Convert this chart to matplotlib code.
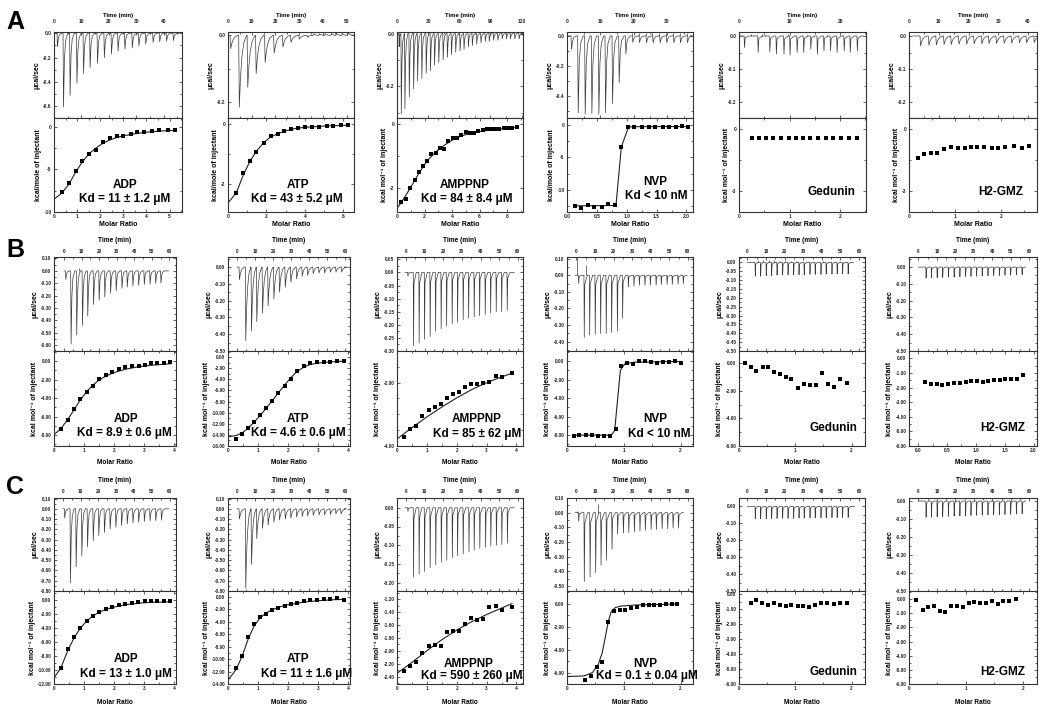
import matplotlib
matplotlib.use("Agg")
import matplotlib.pyplot as plt
from matplotlib.ticker import MultipleLocator, FuncFormatter

plt.rcParams["font.family"] = ["Liberation Sans", "DejaVu Sans"]
plt.rcParams["font.weight"] = "bold"

# ---------------- data ----------------
COMPOUNDS = ["ADP", "ATP", "AMPPNP", "NVP", "Gedunin", "H2-GMZ"]
KD_A = ["Kd = 11 ± 1.2 μM", "Kd = 43 ± 5.2 μM", "Kd = 84 ± 8.4 μM", "Kd < 10 nM", "", ""]
KD_B = ["Kd = 8.9 ± 0.6 μM", "Kd = 4.6 ± 0.6 μM", "Kd = 85 ± 62 μM", "Kd < 10 nM", "", ""]
KD_C = ["Kd = 13 ± 1.0 μM", "Kd = 11 ± 1.6 μM", "Kd = 590 ± 260 μM", "Kd = 0.1 ± 0.04 μM", "", ""]
YLAB_A = ["kcal/mole of injectant", "kcal/mole of injectant", "kcal mol⁻¹ of injectant",
          "kcal/mole of injectant", "kcal mol⁻¹ of injectant", "kcal mol⁻¹ of injectant"]
YLAB_BC = "kcal mol⁻¹ of injectant"

# --- row A ---
A_ADP_T = [1.1, 3.3, 5.7, 8.2, 10.6, 13.0, 15.7, 18.2, 20.8, 23.2, 25.7, 28.4, 30.8, 33.3, 36.0, 38.4, 40.9, 43.4]
A_ADP_P = [-0.11, -0.605, -0.51, -0.41, -0.33, -0.28, -0.245, -0.20, -0.17, -0.145, -0.13, -0.12, -0.105, -0.09, -0.076, -0.07, -0.065, -0.06]
A_ADP_ST = [31.8, 44.8]
A_ADP_SH = [0.03, 0.02]
A_ADP_X = [0.35, 0.65, 0.94, 1.23, 1.52, 1.83, 2.10, 2.41, 2.71, 3.00, 3.32, 3.61, 3.91, 4.25, 4.55, 4.93, 5.25]
A_ADP_Y = [-7.66, -6.64, -5.20, -3.98, -3.16, -2.70, -1.76, -1.33, -1.09, -1.02, -0.82, -0.63, -0.59, -0.47, -0.39, -0.31, -0.35]
A_ADP_FX = [0, 0.35, 0.65, 0.94, 1.23, 1.52, 1.83, 2.1, 2.4, 2.7, 3.0, 3.5, 4.0, 4.5, 5.25]
A_ADP_FY = [-8.5, -7.75, -6.7, -5.3, -4.1, -3.15, -2.45, -1.95, -1.55, -1.25, -1.05, -0.8, -0.62, -0.5, -0.38]

A_ATP_T = [0.85, 4.5, 8.05, 11.6, 15.4, 19.2, 22.9, 26.3, 29.8, 33.3, 35.9, 38.3, 40.8, 43.4, 45.5, 47.9, 50.4]
A_ATP_P = [-0.04, -0.215, -0.155, -0.114, -0.081, -0.053, -0.035, -0.021, -0.011, -0.006, 0.005, 0.005, 0.005, 0.006, 0.006, 0.006, 0.006]
A_ATP_X = [0.44, 0.79, 1.13, 1.48, 1.85, 2.22, 2.58, 2.91, 3.28, 3.63, 4.0, 4.38, 4.75, 5.13, 5.48, 5.88, 6.25]
A_ATP_Y = [-2.29, -1.62, -1.24, -0.91, -0.61, -0.40, -0.33, -0.24, -0.15, -0.11, -0.09, -0.08, -0.08, -0.07, -0.06, -0.04, -0.03]
A_ATP_FX = [0, 0.44, 0.79, 1.13, 1.48, 1.85, 2.2, 2.6, 3.0, 3.5, 4.0, 5.0, 6.25]
A_ATP_FY = [-2.63, -2.28, -1.7, -1.25, -0.9, -0.62, -0.43, -0.31, -0.22, -0.14, -0.1, -0.06, -0.03]

A_AMP_T = [1.9, 3.8, 7.3, 11.5, 15.7, 19.5, 23.6, 27.8, 31.9, 35.8, 39.9, 44.1, 48.2, 52.1, 56.2,
           60.4, 64.2, 68.4, 72.2, 76.4, 80.5, 84.7, 88.5, 92.7, 96.8, 101.0, 105.1, 108.9, 113.1, 117.3]
A_AMP_P = [-0.05, -0.305, -0.285, -0.24, -0.21, -0.18, -0.17, -0.15, -0.14, -0.12, -0.11, -0.10, -0.09, -0.08, -0.07,
           -0.065, -0.06, -0.05, -0.045, -0.04, -0.035, -0.03, -0.03, -0.025, -0.025, -0.02, -0.02, -0.02, -0.02, -0.02]
A_AMP_X = [0.31, 0.63, 0.96, 1.28, 1.57, 1.88, 2.19, 2.48, 2.80, 3.11, 3.42, 3.73, 4.05, 4.36,
           4.67, 4.99, 5.30, 5.59, 5.90, 6.22, 6.51, 6.82, 7.16, 7.45, 7.76, 8.07, 8.39, 8.75]
A_AMP_Y = [-2.42, -2.33, -1.98, -1.75, -1.50, -1.30, -1.16, -0.94, -0.92, -0.74, -0.77, -0.53, -0.43, -0.43,
           -0.34, -0.24, -0.29, -0.29, -0.23, -0.20, -0.17, -0.17, -0.15, -0.15, -0.14, -0.14, -0.13, -0.10]
A_AMP_FX = [0, 0.31, 0.96, 1.57, 2.19, 2.8, 3.42, 4.05, 4.67, 5.3, 6.0, 7.0, 8.0, 8.75]
A_AMP_FY = [-2.62, -2.45, -2.0, -1.55, -1.15, -0.88, -0.67, -0.50, -0.38, -0.30, -0.24, -0.18, -0.14, -0.11]

A_NVP_T = [1.2, 3.2, 5.3, 7.3, 9.4, 11.4, 13.5, 15.5, 17.5, 19.6, 21.6, 23.7, 25.7, 27.8, 29.8, 31.9, 33.9, 36.0]
A_NVP_P = [-0.09, -0.51, -0.52, -0.515, -0.52, -0.51, -0.45, -0.31, -0.12, -0.043, -0.045, -0.045, -0.045,
           -0.045, -0.045, -0.045, -0.045, -0.045]
A_NVP_ST = [19.5, 21.5, 23.6, 25.6, 27.7, 29.7, 31.8, 33.8, 35.9]
A_NVP_SH = [0.022, 0.022, 0.022, 0.022, 0.022, 0.022, 0.022, 0.022, 0.022]
A_NVP_X = [0.13, 0.24, 0.35, 0.46, 0.58, 0.69, 0.80, 0.91, 1.02, 1.13, 1.26, 1.37, 1.48, 1.60, 1.71, 1.82, 1.92, 2.03]
A_NVP_Y = [-12.47, -12.73, -12.27, -12.63, -12.63, -12.22, -12.27, -3.35, -0.36, -0.38, -0.36, -0.40,
           -0.36, -0.38, -0.36, -0.40, -0.15, -0.30]
A_NVP_FX = [0.13, 0.82, 0.91, 1.03, 1.1, 2.03]
A_NVP_FY = [-12.45, -12.4, -3.4, -0.35, -0.3, -0.28]

A_GED_T = [1.0, 3.7, 6.0, 7.3, 8.8, 10.0, 11.4, 12.7, 14.1, 15.4, 16.7, 18.0, 19.3, 20.7, 21.9, 23.3]
A_GED_P = [-0.035, -0.05, -0.048, -0.055, -0.055, -0.058, -0.05, -0.05, -0.04, -0.055, -0.045, -0.045,
           -0.05, -0.045, -0.05, -0.045]
A_GED_ST = [2.4, 4.6, 5.1, 9.6, 13.4, 17.4]
A_GED_SH = [0.005, 0.006, 0.004, 0.006, 0.004, 0.004]
A_GED_X = [0.26, 0.40, 0.54, 0.68, 0.83, 0.98, 1.12, 1.27, 1.41, 1.56, 1.72, 1.86, 2.01, 2.17, 2.33]
A_GED_Y = [-0.43, -0.42, -0.43, -0.43, -0.43, -0.43, -0.42, -0.43, -0.43, -0.42, -0.41, -0.42, -0.43, -0.42, -0.42]

A_H2_T = [3.7, 6.5, 9.0, 11.6, 14.0, 16.6, 19.2, 21.7, 24.3, 26.7, 29.2, 31.8, 34.3, 36.9, 39.3, 41.9]
A_H2_P = [-0.03, -0.028, -0.027, -0.026, -0.026, -0.025, -0.025, -0.024, -0.024, -0.023, -0.023,
          -0.022, -0.022, -0.021, -0.021, -0.02]
A_H2_X = [0.19, 0.33, 0.47, 0.62, 0.76, 0.91, 1.06, 1.21, 1.35, 1.49, 1.64, 1.80, 1.95, 2.10, 2.29, 2.46, 2.62]
A_H2_Y = [-1.40, -1.22, -1.17, -1.17, -0.96, -0.85, -0.90, -0.90, -0.88, -0.85, -0.85, -0.93, -0.90,
          -0.85, -0.80, -0.90, -0.82]

# --- row B ---
B_ADP_T = [0.8, 3.8, 7.0, 10.3, 13.3, 16.6, 19.8, 23.0, 26.3, 29.5, 32.8, 35.8, 39.0, 42.3, 45.5, 48.8, 52.0, 55.0]
B_ADP_P = [-0.07, -0.59, -0.517, -0.44, -0.365, -0.27, -0.236, -0.21, -0.18, -0.16, -0.14, -0.13, -0.12,
           -0.115, -0.11, -0.107, -0.10, -0.097]
B_ADP_ST = [8.6]
B_ADP_SH = [0.02]
B_ADP_X = [0.23, 0.46, 0.67, 0.88, 1.09, 1.30, 1.51, 1.74, 1.95, 2.17, 2.38, 2.59, 2.82, 3.03, 3.24, 3.45, 3.67, 3.88]
B_ADP_Y = [-7.29, -6.39, -5.20, -4.15, -3.32, -2.67, -1.99, -1.55, -1.23, -0.87, -0.69, -0.58, -0.54, -0.43,
           -0.18, -0.25, -0.22, -0.11]
B_ADP_FX = [0, 0.23, 0.46, 0.67, 0.88, 1.09, 1.3, 1.5, 1.75, 2.0, 2.4, 2.8, 3.2, 3.88]
B_ADP_FY = [-7.95, -7.3, -6.3, -5.25, -4.2, -3.3, -2.6, -2.05, -1.6, -1.25, -0.88, -0.63, -0.47, -0.3]

B_ATP_T = [1.1, 4.6, 7.8, 10.7, 13.9, 17.0, 20.2, 23.3, 26.5, 29.6, 32.8, 35.9, 38.9, 42.0, 45.2, 48.3, 51.5, 54.6, 57.8]
B_ATP_P = [-0.075, -0.437, -0.38, -0.325, -0.275, -0.23, -0.19, -0.15, -0.12, -0.09, -0.07, -0.055, -0.05,
           -0.04, -0.035, -0.035, -0.03, -0.03, -0.03]
B_ATP_X = [0.28, 0.48, 0.67, 0.87, 1.07, 1.27, 1.48, 1.68, 1.89, 2.09, 2.30, 2.52, 2.73, 2.95, 3.18, 3.40, 3.62, 3.85]
B_ATP_Y = [-14.72, -13.86, -12.82, -11.66, -10.44, -9.22, -7.88, -6.53, -5.19, -3.97, -2.50, -1.53, -1.04,
           -0.92, -0.85, -0.85, -0.67, -0.61]
B_ATP_FX = [0, 0.28, 0.48, 0.67, 0.87, 1.07, 1.27, 1.48, 1.68, 1.89, 2.09, 2.3, 2.52, 2.73, 2.95, 3.4, 3.85]
B_ATP_FY = [-14.35, -14.1, -13.6, -12.8, -11.7, -10.5, -9.2, -7.8, -6.4, -5.0, -3.7, -2.6, -1.8, -1.35, -1.1,
            -0.85, -0.75]

B_AMP_T = [0.9, 3.9, 6.9, 9.8, 12.8, 15.7, 18.7, 21.6, 24.6, 27.5, 30.5, 33.4, 36.4, 39.3, 42.3, 45.2, 48.2, 51.1, 54.1]
B_AMP_P = [-0.015, -0.28, -0.27, -0.255, -0.245, -0.225, -0.215, -0.205, -0.195, -0.19, -0.18, -0.175, -0.17,
           -0.165, -0.16, -0.155, -0.15, -0.15, -0.145]
B_AMP_X = [0.22, 0.44, 0.64, 0.84, 1.06, 1.26, 1.46, 1.67, 1.87, 2.08, 2.28, 2.48, 2.69, 2.89, 3.09, 3.30, 3.50, 3.84]
B_AMP_Y = [-3.71, -3.45, -3.36, -3.04, -2.85, -2.77, -2.68, -2.50, -2.35, -2.31, -2.13, -2.05, -2.04, -2.0,
           -1.97, -1.80, -1.83, -1.69]
B_AMP_FX = [0, 0.5, 1.0, 1.5, 2.0, 2.5, 3.0, 3.5, 3.85]
B_AMP_FY = [-3.78, -3.42, -3.08, -2.77, -2.48, -2.22, -2.0, -1.82, -1.7]

B_NVP_T = [1.1, 4.1, 7.0, 10.0, 12.9, 15.9, 18.8, 21.9, 24.7, 27.8, 30.8, 33.7, 36.7, 39.6, 42.7, 45.5,
           48.6, 51.4, 54.5, 57.3]
B_NVP_P = [-0.05, -0.375, -0.36, -0.355, -0.35, -0.35, -0.345, -0.335, -0.26, -0.07, -0.065, -0.06, -0.06,
           -0.06, -0.06, -0.055, -0.055, -0.055, -0.055, -0.05]
B_NVP_ST = [0.4, 5.3]
B_NVP_SH = [0.14, 0.06]
B_NVP_X = [0.12, 0.22, 0.33, 0.44, 0.55, 0.65, 0.76, 0.86, 0.95, 1.06, 1.16, 1.27, 1.37, 1.48, 1.58, 1.69,
           1.80, 1.91, 2.01]
B_NVP_Y = [-8.05, -8.01, -7.98, -7.98, -8.05, -8.09, -8.12, -7.36, -0.51, -0.25, -0.29, -0.04, -0.04, -0.11,
           -0.18, -0.07, -0.07, 0.04, -0.22]
B_NVP_FX = [0.12, 0.78, 0.84, 0.94, 1.02, 1.2, 2.01]
B_NVP_FY = [-8.0, -8.0, -7.5, -1.0, -0.3, -0.12, -0.05]

B_GED_T = [4.1, 7.0, 10.0, 12.9, 15.8, 18.8, 21.7, 24.7, 27.6, 30.4, 33.5, 36.3, 39.4, 42.2, 45.3, 48.1, 51.0, 54.0]
B_GED_P = [-0.078, -0.078, -0.075, -0.075, -0.072, -0.072, -0.07, -0.07, -0.07, -0.07, -0.068, -0.068,
           -0.068, -0.066, -0.066, -0.065, -0.065, -0.065]
B_GED_ST = [5.6, 8.5, 11.5, 14.4, 17.3, 20.3, 23.2, 26.2, 40.9]
B_GED_SH = [0.012, 0.012, 0.011, 0.011, 0.01, 0.01, 0.008, 0.008, 0.008]
B_GED_X = [0.11, 0.21, 0.31, 0.42, 0.52, 0.63, 0.73, 0.83, 0.93, 1.04, 1.15, 1.26, 1.37, 1.48, 1.59, 1.69, 1.80, 1.92]
B_GED_Y = [0.0, -0.27, -0.56, -0.29, -0.29, -0.61, -0.75, -0.97, -1.12, -1.82, -1.50, -1.58, -1.58, -0.68,
           -1.53, -1.70, -1.14, -1.41]

B_H2_T = [4.0, 6.9, 10.0, 13.0, 16.1, 19.2, 22.3, 25.4, 28.3, 31.3, 34.4, 37.5, 40.6, 43.7, 46.7, 49.8, 52.9, 56.0]
B_H2_P = [-0.065, -0.065, -0.063, -0.062, -0.06, -0.06, -0.058, -0.056, -0.055, -0.054, -0.053, -0.052,
          -0.05, -0.05, -0.048, -0.047, -0.046, -0.045]
B_H2_X = [0.12, 0.22, 0.32, 0.42, 0.52, 0.62, 0.72, 0.82, 0.92, 1.02, 1.12, 1.21, 1.31, 1.41, 1.51, 1.61, 1.71, 1.81]
B_H2_Y = [-1.62, -1.78, -1.78, -1.83, -1.76, -1.69, -1.67, -1.65, -1.56, -1.56, -1.60, -1.53, -1.49, -1.49,
          -1.44, -1.40, -1.44, -1.14]

# --- row C ---
C_ADP_T = [0.9, 4.1, 7.3, 10.5, 13.7, 16.9, 20.0, 23.2, 26.4, 29.6, 32.8, 36.0, 39.2, 42.4, 45.6, 48.8, 52.0, 55.2]
C_ADP_P = [-0.09, -0.72, -0.565, -0.457, -0.37, -0.31, -0.26, -0.23, -0.196, -0.18, -0.163, -0.147, -0.137,
           -0.13, -0.124, -0.118, -0.114, -0.11]
C_ADP_X = [0.23, 0.46, 0.67, 0.88, 1.09, 1.30, 1.51, 1.74, 1.95, 2.16, 2.38, 2.59, 2.81, 3.02, 3.24, 3.45, 3.66, 3.88]
C_ADP_Y = [-9.65, -7.06, -5.32, -4.0, -2.92, -2.21, -1.69, -1.27, -0.94, -0.71, -0.52, -0.42, -0.33, -0.19,
           -0.19, -0.19, -0.19, -0.14]
C_ADP_FX = [0, 0.23, 0.46, 0.67, 0.88, 1.09, 1.3, 1.5, 1.75, 2.0, 2.4, 2.8, 3.2, 3.88]
C_ADP_FY = [-11.1, -9.7, -7.2, -5.4, -4.0, -3.0, -2.25, -1.75, -1.3, -1.0, -0.65, -0.45, -0.33, -0.25]

C_ATP_T = [1.1, 4.6, 7.8, 10.7, 13.9, 17.0, 20.2, 23.3, 26.5, 29.6, 32.8, 35.9, 38.9, 42.0, 45.2, 48.3, 51.5, 54.6, 57.4]
C_ATP_P = [-0.10, -0.775, -0.54, -0.29, -0.19, -0.157, -0.13, -0.11, -0.10, -0.09, -0.08, -0.075, -0.07,
           -0.065, -0.06, -0.06, -0.055, -0.05, -0.05]
C_ATP_X = [0.28, 0.48, 0.67, 0.87, 1.07, 1.27, 1.48, 1.68, 1.89, 2.09, 2.30, 2.52, 2.73, 2.95, 3.18, 3.40, 3.62, 3.85]
C_ATP_Y = [-11.5, -9.57, -6.42, -4.39, -3.32, -2.73, -2.19, -1.76, -1.44, -1.23, -1.02, -0.70, -0.59, -0.48,
           -0.43, -0.32, -0.21, -0.48]
C_ATP_FX = [0, 0.28, 0.48, 0.67, 0.87, 1.07, 1.27, 1.5, 1.75, 2.0, 2.5, 3.0, 3.5, 3.85]
C_ATP_FY = [-13.4, -11.6, -9.4, -6.8, -4.7, -3.4, -2.6, -2.05, -1.6, -1.3, -0.9, -0.65, -0.5, -0.45]

C_AMP_T = [0.9, 3.9, 6.9, 9.8, 12.8, 15.8, 18.8, 21.7, 24.7, 27.5, 30.5, 33.6, 36.4, 39.4, 42.5, 45.3, 48.3, 51.2, 54.2]
C_AMP_P = [-0.01, -0.185, -0.177, -0.17, -0.16, -0.152, -0.145, -0.14, -0.133, -0.128, -0.123, -0.118, -0.113,
           -0.108, -0.105, -0.102, -0.10, -0.098, -0.095]
C_AMP_X = [0.22, 0.44, 0.64, 0.84, 1.06, 1.26, 1.46, 1.67, 1.87, 2.08, 2.28, 2.48, 2.69, 2.89, 3.09, 3.30, 3.50, 3.84]
C_AMP_Y = [-2.31, -2.24, -2.18, -2.03, -1.93, -1.91, -1.93, -1.71, -1.69, -1.69, -1.58, -1.50, -1.52, -1.51,
           -1.32, -1.30, -1.375, -1.325]
C_AMP_FX = [0, 0.5, 1.0, 1.5, 2.0, 2.5, 3.0, 3.5, 3.85]
C_AMP_FY = [-2.35, -2.18, -2.0, -1.83, -1.68, -1.55, -1.44, -1.34, -1.27]

C_NVP_T = [1.1, 4.1, 7.2, 10.2, 13.1, 16.0, 19.0, 22.0, 25.1, 28.0, 31.0, 34.0, 36.9, 40.0, 42.8, 45.9, 48.9, 51.8, 54.7]
C_NVP_P = [-0.06, -0.47, -0.44, -0.41, -0.36, -0.325, -0.25, -0.145, -0.14, -0.135, -0.13, -0.125, -0.12,
           -0.115, -0.115, -0.11, -0.11, -0.105, -0.105]
C_NVP_ST = [0.6, 11.4]
C_NVP_SH = [0.012, 0.06]
C_NVP_X = [0.32, 0.42, 0.52, 0.62, 0.72, 0.82, 0.93, 1.03, 1.13, 1.23, 1.34, 1.44, 1.54, 1.64, 1.75, 1.85, 1.94]
C_NVP_Y = [-6.69, -6.31, -5.54, -5.06, -1.63, -0.69, -0.54, -0.57, -0.40, -0.26, -0.14, -0.11, -0.09, -0.09,
           -0.06, -0.06, -0.03]
C_NVP_FX = [0, 0.3, 0.45, 0.55, 0.62, 0.68, 0.73, 0.78, 0.85, 0.95, 1.2, 1.6, 1.95]
C_NVP_FY = [-6.35, -6.3, -6.0, -5.3, -4.3, -2.8, -1.5, -0.7, -0.35, -0.22, -0.13, -0.08, -0.05]

C_GED_T = [4.1, 7.0, 10.0, 12.9, 15.8, 18.8, 21.7, 24.7, 27.6, 30.4, 33.5, 36.3, 39.4, 42.2, 45.3, 48.1, 51.0, 54.0]
C_GED_P = [-0.073, -0.072, -0.072, -0.071, -0.071, -0.07, -0.07, -0.07, -0.069, -0.069, -0.068, -0.068,
           -0.067, -0.067, -0.066, -0.066, -0.065, -0.065]
C_GED_X = [0.21, 0.31, 0.41, 0.52, 0.62, 0.73, 0.83, 0.93, 1.04, 1.14, 1.25, 1.35, 1.46, 1.57, 1.69, 1.80, 1.92]
C_GED_Y = [-0.57, -0.41, -0.63, -0.72, -0.63, -0.72, -0.80, -0.70, -0.83, -0.80, -0.89, -0.72, -0.59, -0.57,
           -0.67, -0.61, -0.57]

C_H2_T = [4.0, 6.9, 10.0, 13.0, 16.1, 19.2, 22.3, 25.4, 28.3, 31.3, 34.4, 37.5, 40.6, 43.7, 46.7, 49.8, 52.9, 56.0]
C_H2_P = [-0.09, -0.09, -0.088, -0.086, -0.085, -0.084, -0.083, -0.082, -0.08, -0.079, -0.078, -0.077,
          -0.076, -0.075, -0.074, -0.073, -0.072, -0.07]
C_H2_X = [0.13, 0.24, 0.34, 0.44, 0.54, 0.64, 0.74, 0.84, 0.95, 1.05, 1.15, 1.25, 1.35, 1.46, 1.56, 1.66, 1.76, 1.88]
C_H2_Y = [-0.07, -0.74, -0.53, -0.51, -0.81, -0.93, -0.47, -0.47, -0.53, -0.26, -0.21, -0.26, -0.30, -0.16,
          -0.33, -0.12, -0.12, 0.0]

# ---------------- layout / style ----------------
W, H = 1050, 717
COL_LEFT = [54, 228, 397, 567, 739, 909]
COL_W = {"A": [128, 126, 126, 126, 127, 128], "B": [122, 122, 126, 126, 126, 128],
         "C": [122, 122, 126, 126, 126, 128]}
ROW_Y = {"A": (32, 118, 212), "B": (257, 351, 446), "C": (498, 591, 684)}
ROW_LETTER_Y = {"A": 22, "B": 250, "C": 487}
FS = {"A": dict(tick=3.5, time=4.3, molar=5.0, ylab=5.0, toppad=5.5, time_d=16, molar_d=12),
      "B": dict(tick=3.4, time=4.7, molar=4.7, ylab=5.0, toppad=2.2, time_d=16, molar_d=17),
      "C": dict(tick=3.4, time=4.7, molar=4.7, ylab=5.0, toppad=2.9, time_d=17, molar_d=19)}

# peak shapes: (fraction of peak width, fraction of peak height)
SHAPES = {
    "sharp": [(0, 0), (0.1, 1), (0.3, 0.35), (0.55, 0.1), (1, 0)],
    "broad": [(0, 0), (0.08, 1), (0.22, 0.6), (0.4, 0.3), (0.65, 0.1), (1, 0)],
    "spike": [(0, 0), (0.1, 1), (0.25, 0.15), (1, 0)],
}

# per panel: raw data, isotherm, fit, spikes, and axis style
# top: (xlim, ylim, xmaj, xmin, ymaj, ymin, yfmt, shape, width, t0, t1)
# bottom: (xlim, ylim, xmaj, xmin, ymaj, ymin, xfmt, yfmt)
PANELS = {
    "A": [
        dict(t=A_ADP_T, p=A_ADP_P, st=A_ADP_ST, sh=A_ADP_SH, x=A_ADP_X, y=A_ADP_Y, fx=A_ADP_FX, fy=A_ADP_FY,
             top=((0, 46.7), (-0.695, 0.01), 10, 5, 0.2, 0.1, "%.1f", "sharp", 1.7, 0.0, 45.5),
             bot=((0, 5.54), (-10, 1.05), 1, 0.5, 5, 2.5, "%g", "%g"),
             txt=[(0.555, 0.287), (0.555, 0.138)]),
        dict(t=A_ATP_T, p=A_ATP_P, x=A_ATP_X, y=A_ATP_Y, fx=A_ATP_FX, fy=A_ATP_FY,
             top=((0, 53.1), (-0.247, 0.01), 10, 5, 0.2, 0.1, "%.1f", "broad", 3.4, 0.0, 52.5),
             bot=((0, 6.56), (-2.93, 0.21), 2, 1, 2, 1, "%g", "%g"),
             txt=[(0.556, 0.287), (0.55, 0.138)]),
        dict(t=A_AMP_T, p=A_AMP_P, x=A_AMP_X, y=A_AMP_Y, fx=A_AMP_FX, fy=A_AMP_FY,
             top=((0, 121.3), (-0.32, 0.006), 30, 15, 0.2, 0.1, "%.1f", "sharp", 3.2, 0.5, 120.0),
             bot=((0, 9.16), (-2.74, 0.18), 2, 1, 2, 1, "%g", "%g"),
             txt=[(0.54, 0.287), (0.55, 0.138)]),
        dict(t=A_NVP_T, p=A_NVP_P, st=A_NVP_ST, sh=A_NVP_SH, x=A_NVP_X, y=A_NVP_Y, fx=A_NVP_FX, fy=A_NVP_FY,
             top=((0, 37.8), (-0.545, 0.026), 10, 5, 0.2, 0.1, "%.1f", "sharp", 1.6, 0.0, 37.0),
             bot=((0, 2.11), (-13.4, 1.03), 0.5, 0.25, 5, 2.5, "%.1f", "%g"),
             txt=[(0.70, 0.32), (0.71, 0.165)]),
        dict(t=A_GED_T, p=A_GED_P, st=A_GED_ST, sh=A_GED_SH, x=A_GED_X, y=A_GED_Y,
             top=((0, 25.1), (-0.248, 0.012), 10, 5, 0.1, 0.05, "%.1f", "spike", 0.9, 0.3, 24.6),
             bot=((0, 2.51), (-4.03, 0.54), 1, 0.5, 3, 1.5, "%g", "%g"),
             txt=[(0.73, 0.216)]),
        dict(t=A_H2_T, p=A_H2_P, x=A_H2_X, y=A_H2_Y,
             top=((0, 43.0), (-0.248, 0.012), 10, 5, 0.1, 0.05, "%.1f", "broad", 2.4, 1.5, 43.0),
             bot=((0, 2.79), (-4.03, 0.54), 1, 0.5, 3, 1.5, "%g", "%g"),
             txt=[(0.72, 0.216)]),
    ],
    "B": [
        dict(t=B_ADP_T, p=B_ADP_P, st=B_ADP_ST, sh=B_ADP_SH, x=B_ADP_X, y=B_ADP_Y, fx=B_ADP_FX, fy=B_ADP_FY,
             top=((-5.7, 63.8), (-0.646, 0.112), 10, 5, 0.1, 0.05, "%.2f", "sharp", 2.3, 0.0, 59.5),
             bot=((0, 4.07), (-9.17, 1.08), 1, 0.5, 2, 1, "%g", "%.2f"),
             txt=[(0.59, 0.284), (0.58, 0.137)]),
        dict(t=B_ATP_T, p=B_ATP_P, x=B_ATP_X, y=B_ATP_Y, fx=B_ATP_FX, fy=B_ATP_FY,
             top=((-5.0, 62.6), (-0.50, 0.06), 10, 5, 0.1, 0.05, "%.2f", "broad", 3.0, 0.0, 59.5),
             bot=((0, 4.06), (-16, 1.1), 1, 0.5, 2, 1, "%g", "%.2f"),
             txt=[(0.575, 0.284), (0.575, 0.137)]),
        dict(t=B_AMP_T, p=B_AMP_P, x=B_AMP_X, y=B_AMP_Y, fx=B_AMP_FX, fy=B_AMP_FY,
             top=((-4.8, 62.7), (-0.30, 0.059), 10, 5, 0.05, 0.025, "%.2f", "spike", 1.6, -0.5, 58.0),
             bot=((0, 4.22), (-4.0, -1.0), 1, 0.5, 2, 0.5, "%g", "%.2f"),
             txt=[(0.63, 0.28), (0.635, 0.13)]),
        dict(t=B_NVP_T, p=B_NVP_P, st=B_NVP_ST, sh=B_NVP_SH, x=B_NVP_X, y=B_NVP_Y, fx=B_NVP_FX, fy=B_NVP_FY,
             top=((-5.0, 62.7), (-0.456, 0.11), 10, 5, 0.1, 0.05, "%.2f", "spike", 1.8, -0.5, 59.5),
             bot=((0, 2.22), (-9.17, 1.08), 1, 0.5, 2, 1, "%g", "%.2f"),
             txt=[(0.70, 0.28), (0.73, 0.13)]),
        dict(t=B_GED_T, p=B_GED_P, st=B_GED_ST, sh=B_GED_SH, x=B_GED_X, y=B_GED_Y,
             top=((-4.5, 63.2), (-0.50, 0.03), 10, 5, 0.05, 0.025, "%.2f", "spike", 1.5, 0.0, 57.0),
             bot=((0, 2.24), (-6.0, 0.9), 1, 0.5, 2, 1, "%g", "%.2f"),
             txt=[(0.746, 0.19)]),
        dict(t=B_H2_T, p=B_H2_P, x=B_H2_X, y=B_H2_Y,
             top=((-5.1, 64.2), (-0.50, 0.06), 10, 5, 0.1, 0.05, "%.2f", "spike", 1.5, 0.0, 58.0),
             bot=((-0.16, 2.06), (-6.0, 0.5), 0.5, 0.25, 1, 0.5, "%.1f", "%.2f"),
             txt=[(0.73, 0.19)]),
    ],
    "C": [
        dict(t=C_ADP_T, p=C_ADP_P, x=C_ADP_X, y=C_ADP_Y, fx=C_ADP_FX, fy=C_ADP_FY,
             top=((-4.9, 63.6), (-0.80, 0.105), 10, 5, 0.1, 0.05, "%.2f", "sharp", 2.3, 0.0, 59.5),
             bot=((0, 4.07), (-12.0, 1.3), 1, 0.5, 2, 1, "%g", "%.2f"),
             txt=[(0.59, 0.265), (0.59, 0.107)]),
        dict(t=C_ATP_T, p=C_ATP_P, x=C_ATP_X, y=C_ATP_Y, fx=C_ATP_FX, fy=C_ATP_FY,
             top=((-5.0, 62.6), (-0.80, 0.105), 10, 5, 0.1, 0.05, "%.2f", "broad", 3.0, 0.0, 59.5),
             bot=((0, 4.06), (-14, 0.9), 1, 0.5, 2, 1, "%g", "%.2f"),
             txt=[(0.57, 0.265), (0.64, 0.107)]),
        dict(t=C_AMP_T, p=C_AMP_P, x=C_AMP_X, y=C_AMP_Y, fx=C_AMP_FX, fy=C_AMP_FY,
             top=((-4.8, 62.7), (-0.222, 0.026), 10, 5, 0.05, 0.025, "%.2f", "spike", 1.6, -0.5, 58.0),
             bot=((0, 4.22), (-2.515, -1.075), 1, 0.5, 0.2, 0.1, "%g", "%.2f"),
             txt=[(0.565, 0.22), (0.59, 0.086)]),
        dict(t=C_NVP_T, p=C_NVP_P, st=C_NVP_ST, sh=C_NVP_SH, x=C_NVP_X, y=C_NVP_Y, fx=C_NVP_FX, fy=C_NVP_FY,
             top=((-5.0, 62.7), (-0.535, 0.10), 10, 5, 0.1, 0.05, "%.2f", "spike", 2.0, -0.5, 57.5),
             bot=((0, 2.22), (-7.0, 1.09), 1, 0.5, 2, 1, "%g", "%.2f"),
             txt=[(0.62, 0.22), (0.63, 0.086)]),
        dict(t=C_GED_T, p=C_GED_P, x=C_GED_X, y=C_GED_Y,
             top=((-4.5, 63.2), (-0.50, 0.05), 10, 5, 0.1, 0.05, "%.2f", "spike", 1.5, 0.0, 57.5),
             bot=((0, 2.24), (-6.0, 0.2), 1, 0.5, 1, 0.5, "%g", "%.2f"),
             txt=[(0.746, 0.13)]),
        dict(t=C_H2_T, p=C_H2_P, x=C_H2_X, y=C_H2_Y,
             top=((-5.1, 64.2), (-0.50, 0.017), 10, 5, 0.1, 0.05, "%.2f", "spike", 1.5, 0.0, 58.0),
             bot=((0, 2.25), (-6.0, 0.58), 1, 0.5, 1, 0.5, "%g", "%.2f"),
             txt=[(0.73, 0.13)]),
    ],
}
KD = {"A": KD_A, "B": KD_B, "C": KD_C}


def fmt(s):
    return FuncFormatter(lambda v, pos: s % (0.0 if abs(v) < 1e-9 else v))


def thermogram(times, peaks, width, shape, t0, t1):
    xs, ys = [t0], [0.0]
    for i, (t, p) in enumerate(zip(times, peaks)):
        w = width
        if i + 1 < len(times):
            w = min(w, 0.95 * (times[i + 1] - t))
        for f, r in SHAPES[shape]:
            xs.append(t + f * w)
            ys.append(r * p)
    xs.append(t1)
    ys.append(0.0)
    return xs, ys


def style(ax, fs):
    ax.tick_params(which="both", direction="in", top=True, right=True, bottom=True, left=True,
                   labelsize=fs["tick"], width=0.5, pad=1.8, colors="#222222")
    ax.tick_params(which="major", length=2.2)
    ax.tick_params(which="minor", length=1.2)
    for s in ax.spines.values():
        s.set_linewidth(0.8)
        s.set_color("#333333")


fig = plt.figure(figsize=(W / 100, H / 100), dpi=100)

for row in ["A", "B", "C"]:
    fs = FS[row]
    y_top, y_mid, y_bot = ROW_Y[row]
    for col, pan in enumerate(PANELS[row]):
        left = COL_LEFT[col]
        wpx = COL_W[row][col]
        ax1 = fig.add_axes([left / W, 1 - y_mid / H, wpx / W, (y_mid - y_top) / H])
        ax2 = fig.add_axes([left / W, 1 - y_bot / H, wpx / W, (y_bot - y_mid) / H])

        # raw heat trace
        xl, yl, xmaj, xmin, ymaj, ymin, yfmt, shape, width, t0, t1 = pan["top"]
        tx, ty = thermogram(pan["t"], pan["p"], width, shape, t0, t1)
        ax1.plot(tx, ty, color="#3a3a3a", lw=0.5)
        if "st" in pan:
            ax1.vlines(pan["st"], 0, pan["sh"], color="#3a3a3a", lw=0.5)
        ax1.set_xlim(*xl)
        ax1.set_ylim(*yl)
        ax1.xaxis.set_major_locator(MultipleLocator(xmaj))
        ax1.xaxis.set_minor_locator(MultipleLocator(xmin))
        ax1.yaxis.set_major_locator(MultipleLocator(ymaj))
        ax1.yaxis.set_minor_locator(MultipleLocator(ymin))
        ax1.xaxis.set_major_formatter(fmt("%g"))
        ax1.yaxis.set_major_formatter(fmt(yfmt))
        style(ax1, fs)
        ax1.tick_params(axis="x", which="both", labeltop=True, labelbottom=False, pad=fs["toppad"])
        ax1.xaxis.set_label_position("top")
        ax1.set_xlabel("Time (min)", fontsize=fs["time"], fontweight="bold", va="center")
        ax1.xaxis.set_label_coords(0.5, 1 + fs["time_d"] / (y_mid - y_top))
        ax1.set_ylabel("μcal/sec", fontsize=fs["ylab"], fontweight="bold", labelpad=1.5)

        # binding isotherm
        xl, yl, xmaj, xmin, ymaj, ymin, xfmt, yfmt = pan["bot"]
        if "fx" in pan:
            ax2.plot(pan["fx"], pan["fy"], color="#222222", lw=0.8)
        ax2.plot(pan["x"], pan["y"], "s", color="black", ms=3.0, mew=0)
        ax2.set_xlim(*xl)
        ax2.set_ylim(*yl)
        ax2.xaxis.set_major_locator(MultipleLocator(xmaj))
        ax2.xaxis.set_minor_locator(MultipleLocator(xmin))
        ax2.yaxis.set_major_locator(MultipleLocator(ymaj))
        ax2.yaxis.set_minor_locator(MultipleLocator(ymin))
        ax2.xaxis.set_major_formatter(fmt(xfmt))
        ax2.yaxis.set_major_formatter(fmt(yfmt))
        style(ax2, fs)
        ax2.set_xlabel("Molar Ratio", fontsize=fs["molar"], fontweight="bold", va="center")
        ax2.xaxis.set_label_coords(0.5, -fs["molar_d"] / (y_bot - y_mid))
        ylab = YLAB_A[col] if row == "A" else YLAB_BC
        ax2.set_ylabel(ylab, fontsize=fs["ylab"], fontweight="bold", labelpad=1.5)

        # compound name and Kd
        lines = [COMPOUNDS[col], KD[row][col]]
        for (px, py), s in zip(pan["txt"], lines):
            if s:
                ax2.text(px, py, s, transform=ax2.transAxes, ha="center", va="center",
                         fontsize=8.5, fontweight="bold", color="black")

    fig.text(15 / W, 1 - ROW_LETTER_Y[row] / H, row, fontsize=18, fontweight="bold",
             ha="center", va="center")

fig.savefig("out.png", dpi=100)
